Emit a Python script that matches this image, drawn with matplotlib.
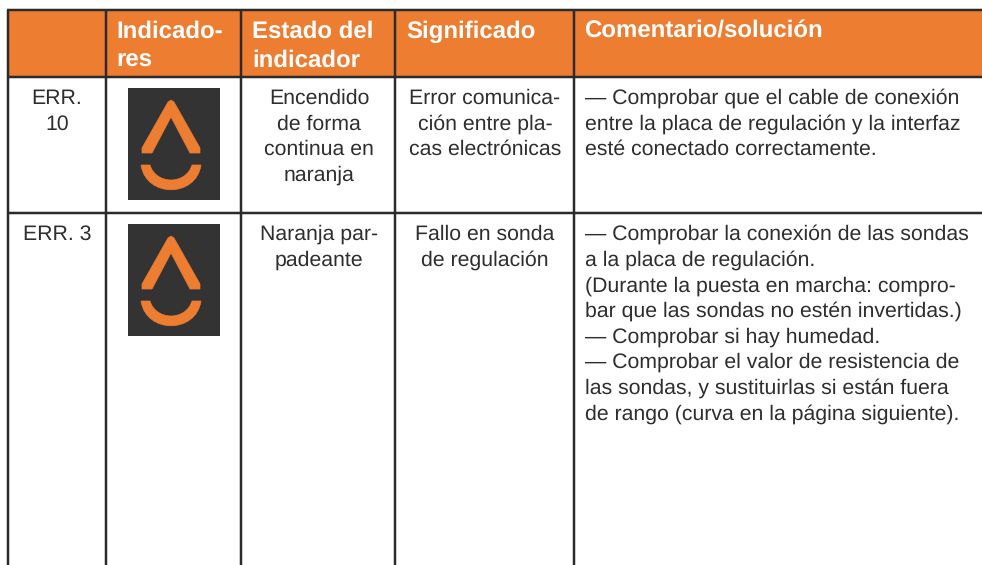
import matplotlib
matplotlib.use("Agg")
import matplotlib.pyplot as plt
from matplotlib.patches import Rectangle, PathPatch, Polygon
from matplotlib.path import Path

plt.rcParams['font.family'] = ['Liberation Sans', 'DejaVu Sans']
plt.rcParams['text.hinting'] = 'no_hinting'
plt.rcParams['text.hinting_factor'] = 8

W, H = 982, 565
col_edges = [8, 106, 241, 395, 574, 982]
row_edges = [10, 77, 213, 565]
ORANGE = '#ED7D31'
INK = '#2B2B2B'
TEXT = '#2E2E2E'
ICON_BG = '#333333'

headers = [["Indicado-", "res"], ["Estado del", "indicador"], ["Significado"], ["Comentario/solución"]]
header_x = [116.5, 252.5, 406.5, 584.5]

row_base = [104, 240]
col0 = [["ERR.", "10"], ["ERR. 3"]]
col2 = [["Encendido", "de forma", "continua en", "naranja"], ["Naranja par-", "padeante"]]
col3 = [["Error comunica-", "ción entre pla-", "cas electrónicas"], ["Fallo en sonda", "de regulación"]]
col4 = [["— Comprobar que el cable de conexión",
         "entre la placa de regulación y la interfaz",
         "esté conectado correctamente."],
        ["— Comprobar la conexión de las sondas",
         "a la placa de regulación.",
         "(Durante la puesta en marcha: compro-",
         "bar que las sondas no estén invertidas.)",
         "— Comprobar si hay humedad.",
         "— Comprobar el valor de resistencia de",
         "las sondas, y sustituirlas si están fuera",
         "de rango (curva en la página siguiente)."]]
icon_top = [88, 224]
icon_left, icon_w, icon_h = 128, 92, 112

fig = plt.figure(figsize=(W / 100, H / 100), dpi=100, facecolor='white')
ax = fig.add_axes([0, 0, 1, 1])
ax.set_xlim(0, W)
ax.set_ylim(H, 0)
ax.axis('off')

ax.add_patch(Rectangle((col_edges[0], row_edges[0]), W - col_edges[0], row_edges[1] - row_edges[0],
                       fc=ORANGE, ec='none', zorder=1))

LW = 2.5 * 0.72
for y in row_edges[:-1]:
    ax.plot([col_edges[0] - 1.3, W], [y, y], color=INK, lw=LW, solid_capstyle='butt', zorder=3)
for x in col_edges[:-1]:
    ax.plot([x, x], [row_edges[0], H], color=INK, lw=LW, solid_capstyle='butt', zorder=3)

HFS, BFS, LEAD, HLEAD = 17.3, 15.3, 25.6, 29
for lines, x in zip(headers, header_x):
    for i, s in enumerate(lines):
        ax.text(x, 38 + i * HLEAD, s, color='white', fontsize=HFS, fontweight='bold',
                ha='left', va='baseline', zorder=4)

def centered(cols, xc):
    for r, lines in enumerate(cols):
        for i, s in enumerate(lines):
            ax.text(xc, row_base[r] + i * LEAD, s, color=TEXT, fontsize=BFS,
                    ha='center', va='baseline', zorder=4)

centered(col0, 57)
centered(col2, 319)
centered(col3, 485)
for r, lines in enumerate(col4):
    for i, s in enumerate(lines):
        ax.text(585, row_base[r] + i * LEAD, s, color=TEXT, fontsize=BFS,
                ha='left', va='baseline', zorder=4)

for top in icon_top:
    ax.add_patch(Rectangle((icon_left, top), icon_w, icon_h, fc=ICON_BG, ec='none', zorder=2))
    cx = icon_left + icon_w / 2 - 3
    drop = [(cx - 3, top + 14), (cx - 29, top + 60), (cx - 29, top + 65), (cx - 19, top + 65),
            (cx, top + 29), (cx + 19, top + 65), (cx + 29, top + 65), (cx + 29, top + 60),
            (cx + 3, top + 14), (cx, top + 12)]
    ax.add_patch(Polygon(drop, closed=True, fc=ORANGE, ec=ORANGE, lw=0.5, zorder=3))
    verts = [(cx - 30, top + 77), (cx - 25, top + 110), (cx + 25, top + 110), (cx + 30, top + 77),
             (cx + 21, top + 77), (cx + 15, top + 97), (cx - 15, top + 97), (cx - 21, top + 77),
             (cx - 30, top + 77)]
    codes = [Path.MOVETO, Path.CURVE4, Path.CURVE4, Path.CURVE4, Path.LINETO,
             Path.CURVE4, Path.CURVE4, Path.CURVE4, Path.CLOSEPOLY]
    ax.add_patch(PathPatch(Path(verts, codes), fc=ORANGE, ec=ORANGE, lw=0.5, zorder=3))

fig.savefig('out.png', dpi=100, facecolor='white')
